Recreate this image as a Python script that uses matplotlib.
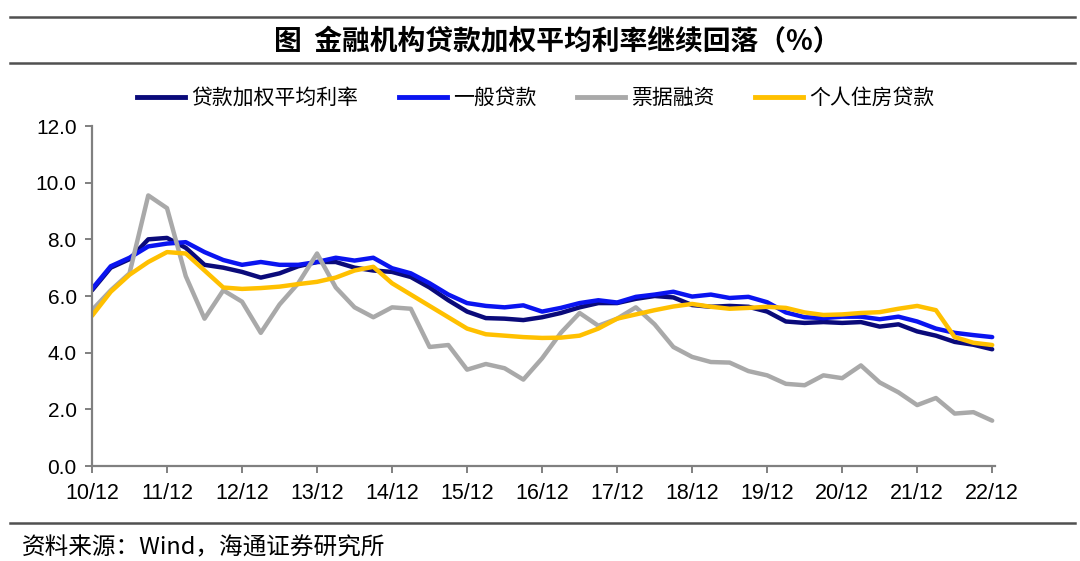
import matplotlib
matplotlib.use("Agg")
import matplotlib.pyplot as plt
from matplotlib.lines import Line2D

# quarterly data, 2010Q4 .. 2022Q4
quarters = list(range(49))
tick_labels = ["10/12", "11/12", "12/12", "13/12", "14/12", "15/12", "16/12",
               "17/12", "18/12", "19/12", "20/12", "21/12", "22/12"]

weighted_avg = [6.2, 7.0, 7.3, 8.0, 8.05, 7.7, 7.1, 7.0, 6.85,
                6.65, 6.8, 7.05, 7.2, 7.2, 7.0, 6.9, 6.85,
                6.67, 6.3, 5.85, 5.45, 5.22, 5.2, 5.15, 5.25,
                5.4, 5.6, 5.75, 5.75, 5.9, 6.0, 5.95, 5.68,
                5.62, 5.65, 5.62, 5.45, 5.1, 5.05, 5.08, 5.05,
                5.08, 4.92, 5.0, 4.75, 4.6, 4.38, 4.28, 4.12]

general_loan = [6.25, 7.05, 7.35, 7.75, 7.85, 7.9, 7.55, 7.27, 7.1,
                7.2, 7.1, 7.1, 7.2, 7.35, 7.25, 7.35, 6.98,
                6.8, 6.45, 6.05, 5.75, 5.65, 5.6, 5.67, 5.45,
                5.58, 5.75, 5.85, 5.77, 5.97, 6.05, 6.15, 5.98,
                6.05, 5.93, 5.97, 5.78, 5.42, 5.25, 5.22, 5.27,
                5.27, 5.18, 5.27, 5.1, 4.85, 4.7, 4.62, 4.55]

bill_finance = [5.5, 6.2, 6.8, 9.55, 9.1, 6.7, 5.2, 6.2, 5.8,
                4.7, 5.7, 6.45, 7.5, 6.3, 5.6, 5.25, 5.6,
                5.55, 4.2, 4.27, 3.4, 3.6, 3.45, 3.05, 3.8,
                4.7, 5.4, 4.95, 5.2, 5.6, 5.0, 4.2, 3.85,
                3.67, 3.65, 3.35, 3.2, 2.9, 2.85, 3.2, 3.1,
                3.55, 2.95, 2.6, 2.15, 2.4, 1.85, 1.9, 1.6]

mortgage = [5.3, 6.15, 6.75, 7.2, 7.55, 7.5, 6.9, 6.3, 6.25,
            6.28, 6.33, 6.42, 6.5, 6.65, 6.9, 7.03, 6.45,
            6.05, 5.65, 5.25, 4.85, 4.65, 4.6, 4.55, 4.52,
            4.53, 4.6, 4.85, 5.2, 5.35, 5.5, 5.63, 5.72,
            5.62, 5.55, 5.58, 5.62, 5.58, 5.42, 5.33, 5.35,
            5.4, 5.43, 5.55, 5.65, 5.5, 4.55, 4.35, 4.27]

series_names = ["贷款加权平均利率", "一般贷款", "票据融资", "个人住房贷款"]
series_values = [weighted_avg, general_loan, bill_finance, mortgage]
colors = ["#0A0A7A", "#0A14F0", "#A9A9A9", "#FFC000"]

cjk = ["Noto Sans CJK SC", "DejaVu Sans"]
latin = ["Liberation Sans", "DejaVu Sans"]

fig = plt.figure(figsize=(10.8, 5.61), dpi=100)
ax = fig.add_axes([92 / 1080, (561 - 466) / 561, 903 / 1080, 340 / 561])

for name, vals, c in zip(series_names, series_values, colors):
    ax.plot(quarters, vals, color=c, lw=3.2, label=name,
            solid_joinstyle="round", solid_capstyle="round")

ax.set_xlim(0, 48.15)
ax.set_ylim(0, 12)
ax.set_yticks([0, 2, 4, 6, 8, 10, 12])
ax.set_yticklabels([f"{v:.1f}" for v in [0, 2, 4, 6, 8, 10, 12]],
                   fontfamily=latin, fontsize=15)
ax.set_xticks(quarters[::4])
ax.set_xticklabels(tick_labels, fontfamily=latin, fontsize=15.5)

for s in ["top", "right"]:
    ax.spines[s].set_visible(False)
for s in ["left", "bottom"]:
    ax.spines[s].set_color("#808080")
    ax.spines[s].set_linewidth(1.6)
ax.tick_params(axis="both", colors="#808080", labelcolor="black",
               length=5, width=1.4, direction="out")
ax.tick_params(axis="x", pad=7)
ax.tick_params(axis="y", pad=6)

# legend
handles = [Line2D([], [], color=c, lw=3.5) for c in colors]
fig.legend(handles, series_names, loc="center",
           bbox_to_anchor=(536 / 1080, 1 - 98 / 561), ncol=4, frameon=False,
           prop={"family": cjk, "size": 15}, handlelength=2.3,
           handletextpad=0.3, columnspacing=1.95)

# title and rules
fig.text(557 / 1080, 1 - 42 / 561, "图  金融机构贷款加权平均利率继续回落（%）",
         ha="center", va="center", fontsize=20, fontweight="bold",
         fontfamily=cjk)
for yy in [17, 63, 523]:
    fig.add_artist(Line2D([10 / 1080, 1075 / 1080], [1 - yy / 561] * 2,
                          color="#505050", lw=1.8, transform=fig.transFigure))

fig.text(22 / 1080, 1 - 548 / 561, "资料来源：Wind，海通证券研究所",
         ha="left", va="center", fontsize=17, fontfamily=cjk)

fig.savefig("out.png", dpi=100)
